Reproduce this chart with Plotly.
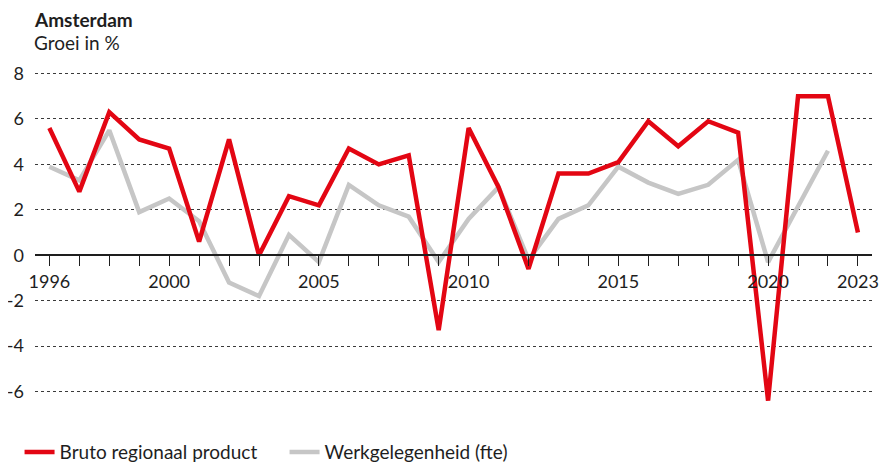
import plotly.graph_objects as go

years = list(range(1996, 2024))
bbp = [5.6, 2.8, 6.3, 5.1, 4.7, 0.6, 5.1, 0.0, 2.6, 2.2,
       4.7, 4.0, 4.4, -3.3, 5.6, 3.0, -0.6, 3.6, 3.6, 4.1,
       5.9, 4.8, 5.9, 5.4, -6.4, 7.0, 7.0, 1.0]
werk = [3.9, 3.3, 5.5, 1.9, 2.5, 1.5, -1.2, -1.8, 0.9, -0.3,
        3.1, 2.2, 1.7, -0.3, 1.6, 3.0, -0.2, 1.6, 2.2, 3.9,
        3.2, 2.7, 3.1, 4.2, -0.3, 2.2, 4.6, None]
label_years = [1996, 2000, 2005, 2010, 2015, 2020, 2023]
tick_text = [str(y) if y in label_years else "" for y in years]
y_ticks = [-6, -4, -2, 0, 2, 4, 6, 8]
y_text = [str(v) for v in y_ticks]  # plain hyphen like the original

RED = "#e30613"
GREY = "#c6c6c6"
INK = "#1e1e1e"
FONT = "Lato"

y_min, y_max = -6.9, 8.2
zero_pos = (0 - y_min) / (y_max - y_min)

fig = go.Figure()
fig.add_trace(go.Scatter(x=years, y=werk, mode="lines", name="Werkgelegenheid (fte)",
                         line=dict(color=GREY, width=4.5), legendrank=2))
fig.add_trace(go.Scatter(x=years, y=bbp, mode="lines", name="Bruto regionaal product",
                         line=dict(color=RED, width=4.5), legendrank=1))

# page has an 8px body margin, so the margins are set 8px smaller on the left/top
fig.update_layout(
    width=889, height=465,
    margin=dict(l=27, r=25, t=61, b=61, autoexpand=False),
    paper_bgcolor="white", plot_bgcolor="white",
    font=dict(family=FONT, size=18, color=INK),
    showlegend=True,
    legend=dict(orientation="h", x=0.013, xanchor="left", xref="container",
                y=0.045, yanchor="middle", yref="container",
                entrywidth=220, entrywidthmode="pixels",
                font=dict(size=19, color=INK), traceorder="normal"),
    hovermode=False,
    annotations=[
        dict(text="<b>Amsterdam</b>", xref="paper", yref="paper", x=-0.003, y=1.144,
             xanchor="left", yanchor="middle", showarrow=False, font=dict(size=19, color=INK)),
        dict(text="Groei in %", xref="paper", yref="paper", x=-0.003, y=1.076,
             xanchor="left", yanchor="middle", showarrow=False, font=dict(size=19, color=INK)),
    ],
)

fig.update_xaxes(
    range=[1995.52, 2023.47],
    tickvals=years, ticktext=tick_text,
    ticks="outside", ticklen=10, tickwidth=1.2, tickcolor=INK,
    showline=True, linecolor=INK, linewidth=1.5,
    showgrid=False, zeroline=False, automargin=False,
    anchor="free", position=zero_pos,
    tickfont=dict(size=18, color=INK),
)
fig.update_yaxes(
    range=[y_min, y_max],
    tickvals=y_ticks, ticktext=y_text,
    showgrid=True, gridcolor="#3a3a3a", gridwidth=1, griddash="dot",
    zeroline=False, showline=False, ticks="", automargin=False,
    ticklabelstandoff=10,
    tickfont=dict(size=18, color=INK),
)

fig.write_html("out.html")
